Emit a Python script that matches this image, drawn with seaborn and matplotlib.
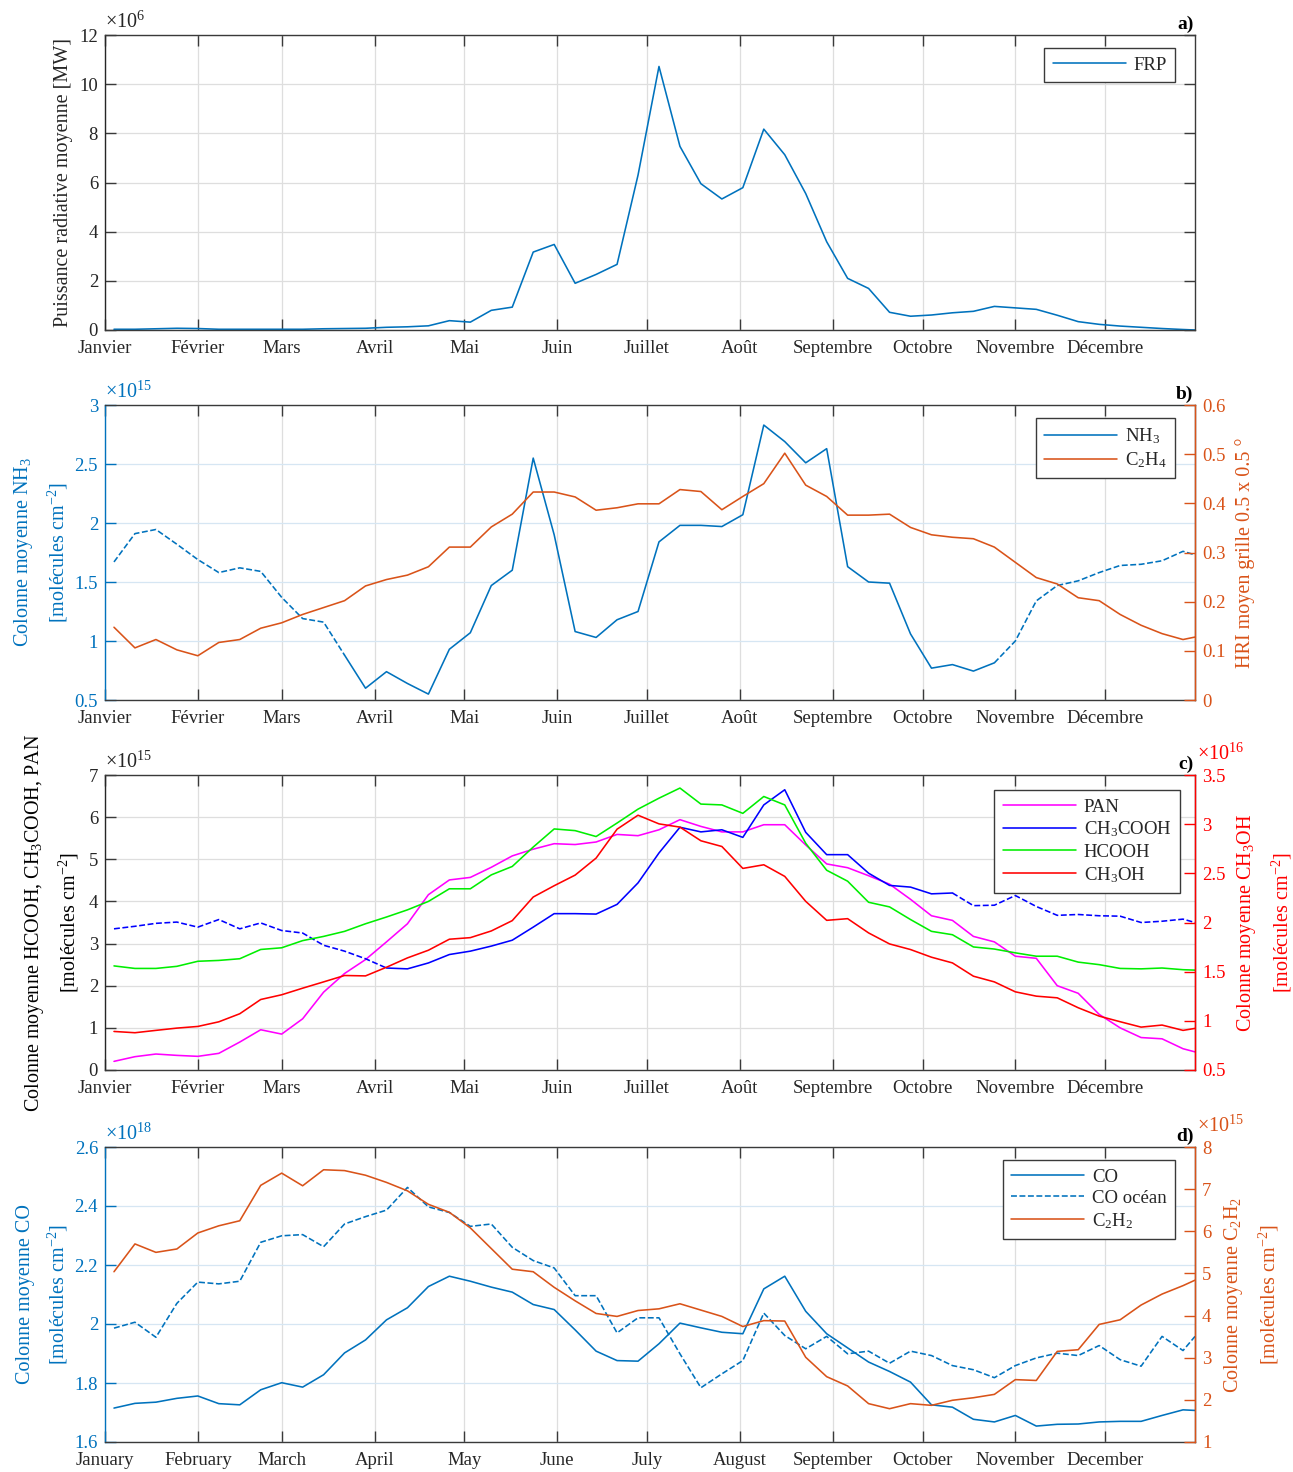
import matplotlib
matplotlib.use("Agg")
import matplotlib.pyplot as plt
import seaborn as sns
import numpy as np
from matplotlib.ticker import FuncFormatter

sns.set_style("white")
plt.rcParams['font.family'] = ['Liberation Serif', 'DejaVu Serif']
plt.rcParams['mathtext.fontset'] = 'custom'
plt.rcParams['mathtext.rm'] = 'Liberation Serif'
plt.rcParams['mathtext.it'] = 'Liberation Serif:italic'
plt.rcParams['mathtext.bf'] = 'Liberation Serif:bold'

# ---------------- data ----------------
days = [4, 11, 18, 25, 32, 39, 46, 53, 60, 67, 74, 81, 88, 95, 102, 109, 116, 123,
        130, 137, 144, 151, 158, 165, 172, 179, 186, 193, 200, 207, 214, 221, 228,
        235, 242, 249, 256, 263, 270, 277, 284, 291, 298, 305, 312, 319, 326, 333,
        340, 347, 354, 361, 365]

month_days = [1, 32, 60, 91, 121, 152, 182, 213, 244, 274, 305, 335]
months_fr = ['Janvier', 'Février', 'Mars', 'Avril', 'Mai', 'Juin', 'Juillet', 'Août',
             'Septembre', 'Octobre', 'Novembre', 'Décembre']
months_en = ['January', 'February', 'March', 'April', 'May', 'June', 'July', 'August',
             'September', 'October', 'November', 'December']

# a) FRP (x1e6 MW)
frp = [0.03, 0.03, 0.05, 0.07, 0.06, 0.03, 0.03, 0.03, 0.03, 0.03, 0.05, 0.06, 0.07,
       0.11, 0.13, 0.17, 0.38, 0.32, 0.8, 0.93, 3.17, 3.48, 1.9, 2.26, 2.67, 6.3,
       10.72, 7.47, 5.95, 5.33, 5.79, 8.17, 7.13, 5.55, 3.59, 2.1, 1.69, 0.72, 0.56,
       0.61, 0.7, 0.76, 0.96, 0.9, 0.84, 0.6, 0.34, 0.23, 0.16, 0.11, 0.06, 0.02, 0.0]

# b) NH3 (x1e15 molec/cm2) and C2H4 (HRI)
nh3 = [1.67, 1.91, 1.945, 1.82, 1.69, 1.58, 1.62, 1.59, 1.37, 1.19, 1.16, 0.88, 0.60,
       0.74, 0.64, 0.55, 0.93, 1.07, 1.47, 1.60, 2.55, 1.90, 1.08, 1.03, 1.18, 1.25,
       1.84, 1.98, 1.98, 1.97, 2.07, 2.83, 2.69, 2.51, 2.63, 1.63, 1.50, 1.49, 1.06,
       0.77, 0.80, 0.745, 0.815, 1.0, 1.34, 1.47, 1.51, 1.58, 1.64, 1.65, 1.68, 1.76, 1.73]
nh3_segments = [(0, 11, '--'), (11, 42, '-'), (42, 52, '--')]
c2h4 = [0.148, 0.106, 0.123, 0.102, 0.090, 0.117, 0.123, 0.146, 0.157, 0.174, 0.188,
        0.202, 0.232, 0.245, 0.254, 0.271, 0.311, 0.311, 0.352, 0.378, 0.423, 0.423,
        0.413, 0.386, 0.391, 0.399, 0.399, 0.428, 0.424, 0.387, 0.414, 0.44, 0.502,
        0.437, 0.414, 0.376, 0.376, 0.378, 0.351, 0.336, 0.331, 0.328, 0.311, 0.280,
        0.249, 0.236, 0.208, 0.202, 0.174, 0.152, 0.135, 0.123, 0.128]

# c) PAN, CH3COOH, HCOOH (x1e15) and CH3OH (x1e16)
pan = [0.205, 0.316, 0.379, 0.347, 0.324, 0.395, 0.663, 0.955, 0.852, 1.215, 1.847,
       2.29, 2.62, 3.04, 3.47, 4.16, 4.51, 4.57, 4.81, 5.08, 5.24, 5.37, 5.35, 5.41,
       5.59, 5.56, 5.70, 5.94, 5.78, 5.65, 5.65, 5.82, 5.82, 5.34, 4.89, 4.80, 4.61,
       4.41, 4.05, 3.66, 3.55, 3.17, 3.04, 2.70, 2.65, 2.0, 1.82, 1.32, 1.0, 0.77,
       0.74, 0.505, 0.43]
ch3cooh = [3.35, 3.41, 3.48, 3.51, 3.39, 3.57, 3.35, 3.49, 3.31, 3.25, 2.96, 2.82,
           2.64, 2.42, 2.40, 2.54, 2.74, 2.82, 2.94, 3.08, 3.39, 3.71, 3.71, 3.70,
           3.93, 4.44, 5.15, 5.76, 5.65, 5.70, 5.52, 6.29, 6.65, 5.64, 5.11, 5.11,
           4.67, 4.38, 4.34, 4.18, 4.20, 3.90, 3.91, 4.14, 3.88, 3.67, 3.69, 3.66,
           3.65, 3.50, 3.53, 3.58, 3.50]
ch3cooh_segments = [(0, 13, '--'), (13, 40, '-'), (40, 52, '--')]
hcooh = [2.47, 2.41, 2.41, 2.46, 2.58, 2.60, 2.64, 2.86, 2.90, 3.07, 3.17, 3.29, 3.47,
         3.63, 3.80, 4.00, 4.30, 4.30, 4.63, 4.83, 5.29, 5.72, 5.68, 5.54, 5.86, 6.19,
         6.45, 6.69, 6.31, 6.29, 6.09, 6.49, 6.29, 5.38, 4.74, 4.48, 3.98, 3.87, 3.57,
         3.29, 3.21, 2.92, 2.87, 2.78, 2.70, 2.70, 2.56, 2.50, 2.41, 2.40, 2.42, 2.38, 2.37]
ch3oh = [0.892, 0.879, 0.903, 0.926, 0.943, 0.990, 1.072, 1.217, 1.265, 1.332, 1.396,
         1.461, 1.457, 1.545, 1.640, 1.718, 1.830, 1.846, 1.914, 2.019, 2.259, 2.374,
         2.482, 2.655, 2.949, 3.091, 3.003, 2.970, 2.831, 2.773, 2.55, 2.587, 2.469,
         2.215, 2.022, 2.039, 1.894, 1.782, 1.725, 1.647, 1.589, 1.454, 1.396, 1.295,
         1.251, 1.234, 1.133, 1.048, 0.991, 0.936, 0.957, 0.903, 0.923]

# d) CO, CO ocean (x1e18) and C2H2 (x1e15)
co = [1.715, 1.731, 1.735, 1.748, 1.756, 1.730, 1.726, 1.777, 1.801, 1.786, 1.828,
      1.902, 1.946, 2.014, 2.055, 2.127, 2.162, 2.145, 2.125, 2.108, 2.066, 2.049,
      1.980, 1.908, 1.876, 1.874, 1.933, 2.003, 1.987, 1.972, 1.967, 2.119, 2.162,
      2.043, 1.967, 1.919, 1.871, 1.839, 1.803, 1.726, 1.718, 1.677, 1.668, 1.690,
      1.654, 1.660, 1.661, 1.668, 1.670, 1.670, 1.690, 1.709, 1.707]
co_ocean = [1.986, 2.006, 1.955, 2.070, 2.142, 2.136, 2.145, 2.277, 2.299, 2.303, 2.262,
            2.339, 2.364, 2.386, 2.463, 2.397, 2.378, 2.331, 2.339, 2.260, 2.215, 2.190,
            2.096, 2.096, 1.970, 2.021, 2.021, 1.899, 1.784, 1.831, 1.876, 2.037, 1.961,
            1.916, 1.958, 1.899, 1.908, 1.867, 1.908, 1.893, 1.859, 1.845, 1.818, 1.859,
            1.885, 1.901, 1.893, 1.927, 1.879, 1.857, 1.958, 1.910, 1.958]
c2h2 = [5.04, 5.70, 5.50, 5.58, 5.96, 6.13, 6.25, 7.09, 7.38, 7.08, 7.46, 7.44, 7.33,
        7.16, 6.96, 6.64, 6.45, 6.08, 5.59, 5.10, 5.04, 4.67, 4.35, 4.05, 3.98, 4.12,
        4.16, 4.28, 4.13, 3.98, 3.74, 3.88, 3.87, 3.01, 2.55, 2.33, 1.91, 1.79, 1.91,
        1.87, 1.99, 2.05, 2.13, 2.48, 2.46, 3.15, 3.19, 3.79, 3.90, 4.25, 4.51, 4.71, 4.84]

# ---------------- style ----------------
MBLUE = '#0072BD'
MORANGE = '#D95319'
C_PAN = '#FF00FF'
C_ACE = '#0000FF'
C_FOR = '#00EE00'
C_MET = '#FF0000'
BOX = '#3a3a3a'
TXT = '#262626'
GRID = '#dedede'
GRID_B = '#d6e6f3'
LW = 1.15
TICK_FS = 13.5
LAB_FS = 14.5

W, H = 1293, 1472
fig = plt.figure(figsize=(W / 100, H / 100), dpi=100)

def make_ax(top_px, bottom_px):
    return fig.add_axes([105 / W, 1 - bottom_px / H, 1090 / W, (bottom_px - top_px) / H])

fmt = FuncFormatter(lambda v, p: f'{v:g}')

def style_x(ax, labels):
    ax.set_xlim(1, 365)
    ax.set_xticks(month_days)
    ax.set_xticklabels(labels)
    ax.tick_params(axis='x', direction='in', length=8, width=1, top=True, bottom=True,
                   labelsize=TICK_FS, pad=7, colors=BOX, labelcolor=TXT)
    ax.xaxis.grid(True, color=GRID, lw=0.9)
    ax.set_xlabel('')

def style_left(ax, color, lo, hi, step, gridcol):
    ax.set_ylim(lo, hi)
    ax.set_yticks(np.arange(lo, hi + step / 2, step))
    ax.yaxis.set_major_formatter(fmt)
    ax.tick_params(axis='y', direction='in', length=8, width=1, left=True,
                   labelsize=TICK_FS, pad=5, colors=color, labelcolor=color)
    ax.yaxis.grid(True, color=gridcol, lw=0.9)
    ax.set_axisbelow(True)
    for s in ['top', 'bottom', 'right']:
        ax.spines[s].set_color(BOX)
    ax.spines['left'].set_color(color)
    for s in ax.spines.values():
        s.set_linewidth(1.0)

def style_right(ax2, color, lo, hi, step):
    ax2.set_ylim(lo, hi)
    ax2.set_yticks(np.arange(lo, hi + step / 2, step))
    ax2.yaxis.set_major_formatter(fmt)
    ax2.tick_params(axis='y', direction='in', length=8, width=1, right=True,
                    labelsize=TICK_FS, pad=5, colors=color, labelcolor=color)
    ax2.spines['right'].set_color(color)
    ax2.spines['right'].set_linewidth(1.0)
    ax2.spines['left'].set_visible(False)
    ax2.spines['top'].set_visible(False)
    ax2.spines['bottom'].set_visible(False)

def draw(ax, y, color, label, segments=None, ls='-'):
    if segments is None:
        segments = [(0, len(y) - 1, ls)]
    used = False
    for s, e, style in segments:
        lab = None
        if not used and (style == '-' or all(st != '-' for _, _, st in segments)):
            lab = label
            used = True
        sns.lineplot(x=days[s:e + 1], y=y[s:e + 1], ax=ax, color=color, linestyle=style,
                     linewidth=LW, label=lab, legend=False)

def legend(ax, handles, labels, anchor):
    lg = ax.legend(handles, labels, loc='upper right', bbox_to_anchor=anchor,
                   borderaxespad=0, fontsize=13.5, handlelength=3.9, fancybox=False,
                   framealpha=1, edgecolor=BOX, labelspacing=0.22, handletextpad=0.4,
                   borderpad=0.45)
    lg.get_frame().set_linewidth(1.0)
    lg.set_zorder(20)

def mult(ax, txt, color, x=0.0, y=1.006):
    ax.text(x, y, txt, transform=ax.transAxes, ha='left', va='bottom',
            fontsize=14.5, color=color)

def panel(ax, txt):
    ax.text(0.9985, 1.006, txt, transform=ax.transAxes, ha='right', va='bottom',
            fontsize=14, fontweight='bold', color='black')

# ---------------- panel a ----------------
axa = make_ax(35, 330)
draw(axa, frp, MBLUE, 'FRP')
style_x(axa, months_fr)
style_left(axa, TXT, 0, 12, 2, GRID)
axa.tick_params(axis='y', right=True, colors=BOX, labelcolor=TXT)
axa.set_ylabel('Puissance radiative moyenne [MW]', fontsize=LAB_FS, color=TXT)
axa.yaxis.set_label_coords(-0.029, 0.5)
h, l = axa.get_legend_handles_labels()
legend(axa, h, l, (0.9817, 0.956))
mult(axa, r'$\times$10$^{6}$', TXT)
panel(axa, 'a)')

# ---------------- panel b ----------------
axb = make_ax(405, 700)
draw(axb, nh3, MBLUE, 'NH$_3$', nh3_segments)
style_x(axb, months_fr)
style_left(axb, MBLUE, 0.5, 3.0, 0.5, GRID_B)
axb.set_ylabel('Colonne moyenne NH$_3$\n[molécules cm$^{-2}$]', fontsize=LAB_FS,
               color=MBLUE, linespacing=1.6)
axb.yaxis.set_label_coords(-0.032, 0.5)
axb2 = axb.twinx()
draw(axb2, c2h4, MORANGE, 'C$_2$H$_4$')
style_right(axb2, MORANGE, 0, 0.6, 0.1)
axb2.set_ylabel('HRI moyen grille 0.5 x 0.5 °', fontsize=LAB_FS, color=MORANGE)
axb2.yaxis.set_label_coords(1.037, 0.5)
h1, l1 = axb.get_legend_handles_labels()
h2, l2 = axb2.get_legend_handles_labels()
legend(axb2, h1 + h2, l1 + l2, (0.9817, 0.956))
mult(axb, r'$\times$10$^{15}$', MBLUE)
panel(axb, 'b)')

# ---------------- panel c ----------------
axc = make_ax(775, 1070)
draw(axc, pan, C_PAN, 'PAN')
draw(axc, ch3cooh, C_ACE, 'CH$_3$COOH', ch3cooh_segments)
draw(axc, hcooh, C_FOR, 'HCOOH')
style_x(axc, months_fr)
style_left(axc, TXT, 0, 7, 1, GRID)
axc.tick_params(axis='y', colors=BOX, labelcolor=TXT)
axc.set_ylabel('Colonne moyenne HCOOH, CH$_3$COOH, PAN\n[molécules cm$^{-2}$]',
               fontsize=LAB_FS, color='black', linespacing=1.6)
axc.yaxis.set_label_coords(-0.022, 0.5)
axc2 = axc.twinx()
draw(axc2, ch3oh, C_MET, 'CH$_3$OH')
style_right(axc2, C_MET, 0.5, 3.5, 0.5)
axc2.set_ylabel('Colonne moyenne CH$_3$OH\n[molécules cm$^{-2}$]', fontsize=LAB_FS,
                color=C_MET, linespacing=1.6)
axc2.yaxis.set_label_coords(1.037, 0.5)
h1, l1 = axc.get_legend_handles_labels()
h2, l2 = axc2.get_legend_handles_labels()
legend(axc2, h1 + h2, l1 + l2, (0.986, 0.949))
mult(axc, r'$\times$10$^{15}$', TXT)
mult(axc2, r'$\times$10$^{16}$', C_MET, x=1.002, y=1.035)
panel(axc, 'c)')

# ---------------- panel d ----------------
axd = make_ax(1147, 1442)
draw(axd, co, MBLUE, 'CO')
draw(axd, co_ocean, MBLUE, 'CO océan', ls='--')
style_x(axd, months_en)
style_left(axd, MBLUE, 1.6, 2.6, 0.2, GRID_B)
axd.set_ylabel('Colonne moyenne CO\n[molécules cm$^{-2}$]', fontsize=LAB_FS,
               color=MBLUE, linespacing=1.6)
axd.yaxis.set_label_coords(-0.032, 0.5)
axd2 = axd.twinx()
draw(axd2, c2h2, MORANGE, 'C$_2$H$_2$')
style_right(axd2, MORANGE, 1, 8, 1)
axd2.set_ylabel('Colonne moyenne C$_2$H$_2$\n[molécules cm$^{-2}$]', fontsize=LAB_FS,
                color=MORANGE, linespacing=1.6)
axd2.yaxis.set_label_coords(1.025, 0.5)
h1, l1 = axd.get_legend_handles_labels()
h2, l2 = axd2.get_legend_handles_labels()
legend(axd2, h1 + h2, l1 + l2, (0.9817, 0.956))
mult(axd, r'$\times$10$^{18}$', MBLUE)
mult(axd2, r'$\times$10$^{15}$', MORANGE, x=1.002, y=1.035)
panel(axd, 'd)')

for a in [axb2, axc2, axd2]:
    a.set_xlim(1, 365)

fig.savefig('out.png', dpi=100)
